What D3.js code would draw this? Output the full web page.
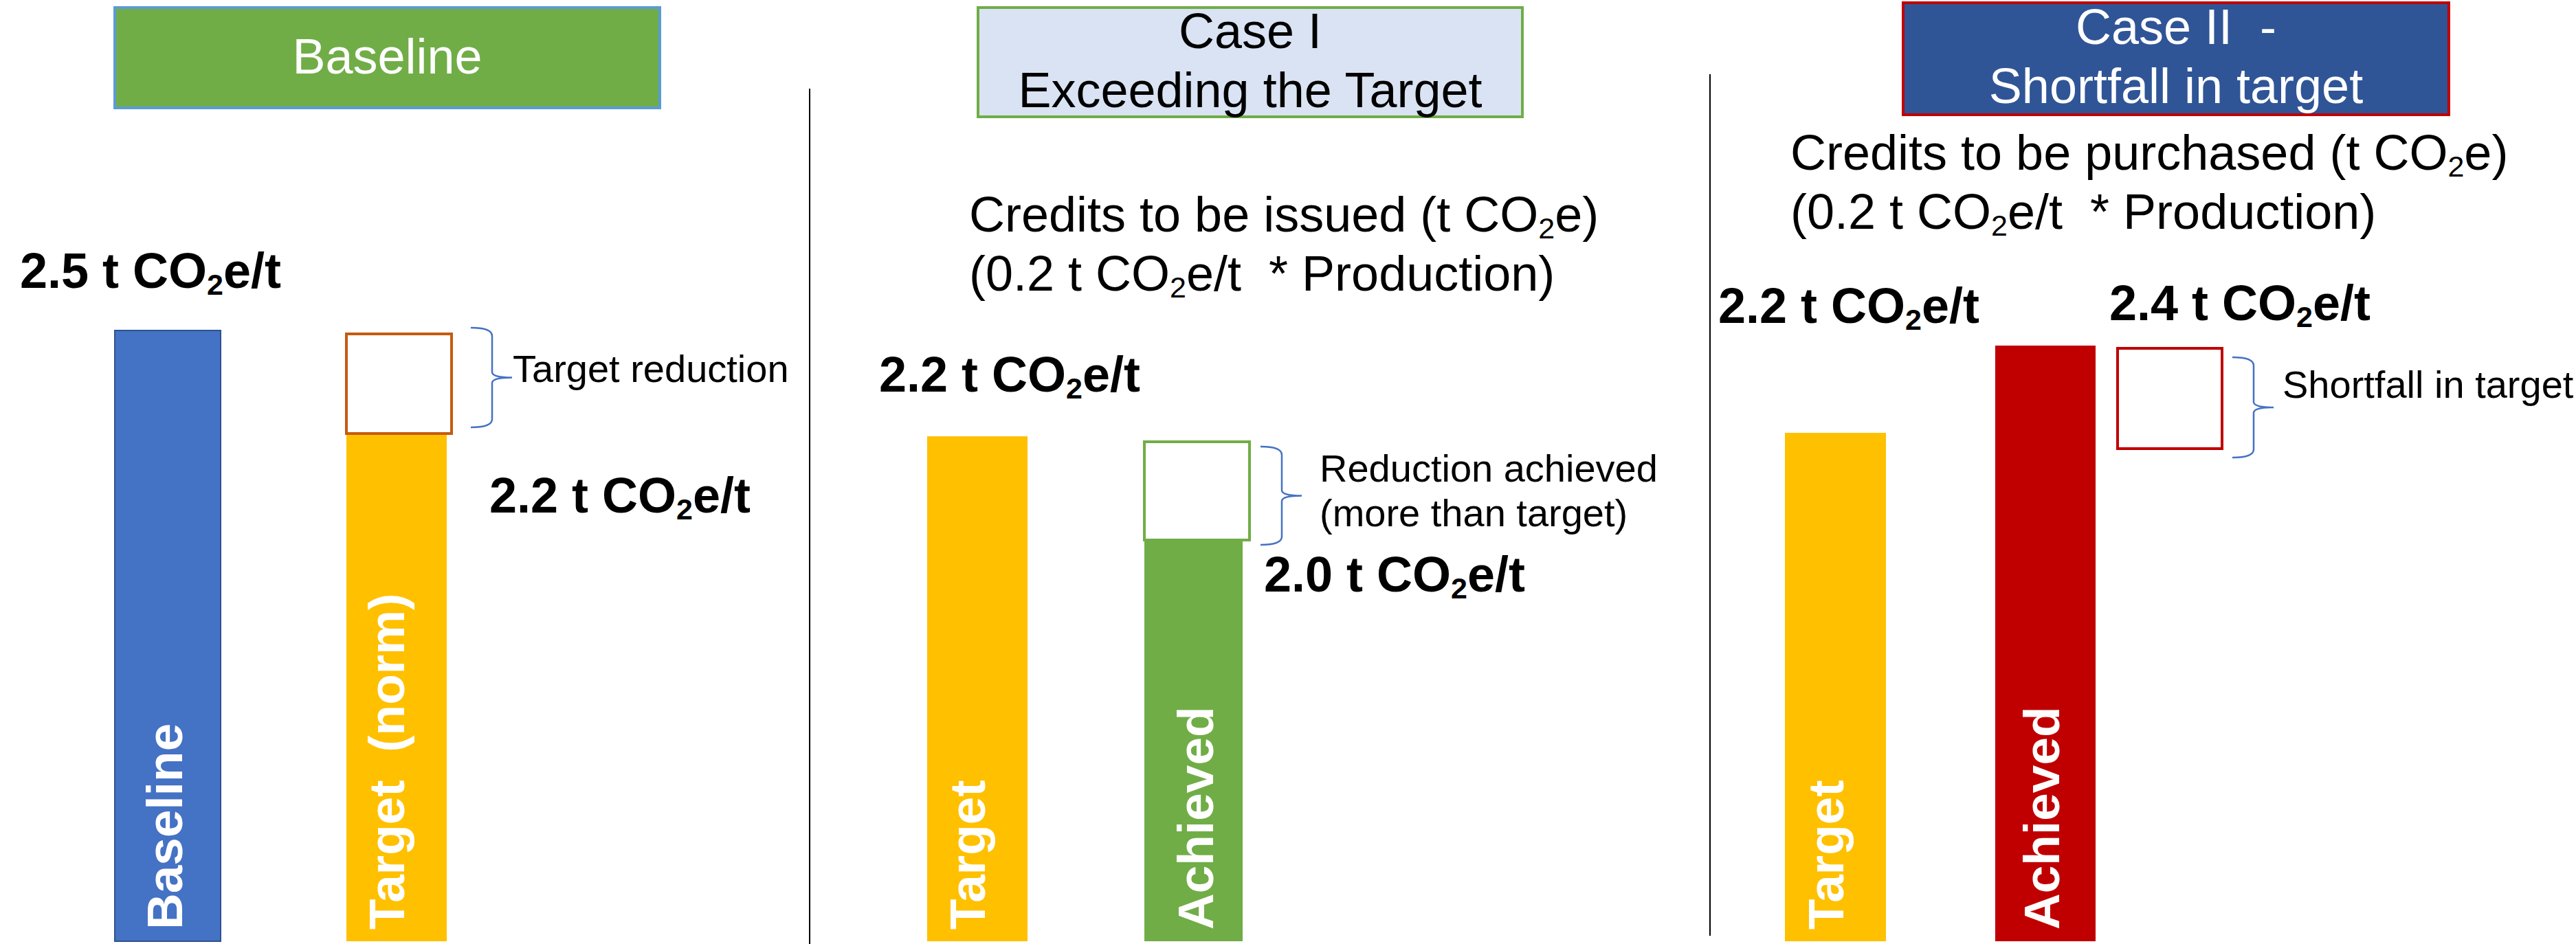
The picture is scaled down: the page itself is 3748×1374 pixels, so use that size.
<!DOCTYPE html>
<html>
<head>
    <title>Baseline vs target credits</title>
    <script src="https://d3js.org/d3.v7.min.js"></script>
    <style>
        body { margin: 0; background: #fff; }
        svg { display: block; font-family: "Liberation Sans", Arial, sans-serif; }
        text { white-space: pre; }
    </style>
</head>
<body>
    <div id="chart"></div>
    <script>
        // ---- data ----
        const panels = ["Baseline", "Case I", "Case II"];
        const titleLines = [["Baseline"], ["Case I", "Exceeding the Target"], ["Case II  -", "Shortfall in target"]];
        const barNames = [["Baseline", "Target  (norm)"], ["Target", "Achieved"], ["Target", "Achieved"]];
        const barValues = [[2.5, 2.2], [2.2, 2.0], [2.2, 2.4]];
        const gapRange = [[2.5, 2.2], [2.2, 2.0], [2.4, 2.2]];   // white box: from hi to lo
        const gapLabels = [["Target reduction"], ["Reduction achieved", "(more than target)"], ["Shortfall in target"]];
        const creditLines = [[], ["Credits to be issued (t CO₂e)", "(0.2 t CO₂e/t  * Production)"],
                                 ["Credits to be purchased (t CO₂e)", "(0.2 t CO₂e/t  * Production)"]];
        const unit = " t CO₂e/t";

        // ---- layout (pixels) ----
        const W = 3748, H = 1374, barBottom = 1370;
        const layout = [
            { yDomain: [2.2, 2.5], yRange: [631, 481], barX: [167, 504], barW: [154, 146],
              colors: ["#4472C4", "#FFC000"], barStroke: ["#2F528F", null],
              box: { bar: 1, dx: 0, w: 153, pad: [5, 0], stroke: "#C55A11" },
              brace: { gap: 28, dy: -9, lab: [1, 6] },
              title: { x: 167, y: 11, w: 793, h: 146, fill: "#70AD47", stroke: "#5B9BD5", color: "#fff", first: 96 },
              credits: null,
              valLab: [[-138, -62], [208, 115]], inLab: [21, 11] },
            { yDomain: [2.0, 2.2], yRange: [786, 635], barX: [1349, 1665], barW: [146, 143],
              colors: ["#FFC000", "#70AD47"], barStroke: [null, null],
              box: { bar: 1, dx: 0, w: 153, pad: [8, 0], stroke: "#70AD47" },
              brace: { gap: 16, dy: 7, lab: [26, -21] },
              title: { x: 1423, y: 11, w: 792, h: 159, fill: "#DAE3F3", stroke: "#70AD47", color: "#000", first: 59 },
              credits: { x: 1410, y: 337 },
              valLab: [[-70, -65], [174, 75]], inLab: [11, 28] },
            { yDomain: [2.2, 2.4], yRange: [630, 503], barX: [2597, 2903], barW: [147, 146],
              colors: ["#FFC000", "#C00000"], barStroke: [null, null],
              box: { bar: 1, dx: 178, w: 152, pad: [4, 23], stroke: "#C00000" },
              brace: { gap: 15, dy: 13, lab: [13, -14] },
              title: { x: 2769, y: 4, w: 794, h: 163, fill: "#2F5597", stroke: "#C00000", color: "#fff", first: 60 },
              credits: { x: 2605, y: 247 },
              valLab: [[-97, -160], [166, -37]], inLab: [11, 20] }
        ];
        const dividers = [{ x: 1178, y1: 129, y2: 1374 }, { x: 2488, y1: 108, y2: 1362 }];

        const svg = d3.select("#chart").append("svg")
            .attr("width", W).attr("height", H);
        svg.append("rect").attr("width", W).attr("height", H).attr("fill", "#fff");

        // text with a subscript 2 wherever "₂" appears
        function richText(sel, str, size) {
            const sub = Math.round(size * 0.6), shift = Math.round(size * 0.14);
            str.split("₂").forEach((p, i) => {
                if (i > 0) {
                    sel.append("tspan").attr("font-size", sub).attr("dy", shift).text("2");
                    sel.append("tspan").attr("dy", -shift).text(p);
                } else {
                    sel.append("tspan").text(p);
                }
            });
        }

        svg.selectAll("line.divider")
            .data(dividers)
            .enter().append("line")
            .attr("class", "divider")
            .attr("x1", d => d.x).attr("x2", d => d.x)
            .attr("y1", d => d.y1).attr("y2", d => d.y2)
            .attr("stroke", "#000").attr("stroke-width", 2);

        panels.forEach((name, p) => {
            const L = layout[p];
            const g = svg.append("g").attr("class", "panel").attr("id", "panel" + p);
            const y = d3.scaleLinear().domain(L.yDomain).range(L.yRange);
            const x = d3.scalePoint().domain(d3.range(barNames[p].length)).range(L.barX);

            // title box
            const t = L.title;
            g.append("rect")
                .attr("x", t.x).attr("y", t.y).attr("width", t.w).attr("height", t.h)
                .attr("fill", t.fill).attr("stroke", t.stroke).attr("stroke-width", 4);
            g.selectAll("text.title")
                .data(titleLines[p])
                .enter().append("text")
                .attr("class", "title")
                .attr("x", t.x + t.w / 2)
                .attr("y", (d, i) => t.y + t.first + i * 86)
                .attr("text-anchor", "middle")
                .attr("font-size", 72)
                .attr("fill", t.color)
                .text(d => d);

            // credits text
            if (L.credits) {
                creditLines[p].forEach((line, i) => {
                    const txt = g.append("text")
                        .attr("x", L.credits.x)
                        .attr("y", L.credits.y + i * 86)
                        .attr("font-size", 72)
                        .attr("fill", "#000");
                    richText(txt, line, 72);
                });
            }

            // bars
            const bars = barValues[p].map((v, i) => ({ i, v, name: barNames[p][i] }));
            g.selectAll("rect.bar")
                .data(bars)
                .enter().append("rect")
                .attr("class", "bar")
                .attr("x", d => x(d.i))
                .attr("y", d => y(d.v))
                .attr("width", d => L.barW[d.i])
                .attr("height", d => barBottom - y(d.v))
                .attr("fill", d => L.colors[d.i])
                .attr("stroke", d => L.barStroke[d.i] || "none")
                .attr("stroke-width", 2);

            // rotated names inside the bars
            g.selectAll("text.inlab")
                .data(bars)
                .enter().append("text")
                .attr("class", "inlab")
                .attr("transform", d => `translate(${x(d.i) + L.barW[d.i] / 2 + L.inLab[d.i]},1353) rotate(-90)`)
                .attr("font-size", 73)
                .attr("font-weight", "bold")
                .attr("fill", "#fff")
                .text(d => d.name);

            // value labels
            bars.forEach(d => {
                const txt = g.append("text")
                    .attr("x", x(d.i) + L.valLab[d.i][0])
                    .attr("y", y(d.v) + L.valLab[d.i][1])
                    .attr("font-size", 72)
                    .attr("font-weight", "bold")
                    .attr("fill", "#000");
                richText(txt, d3.format(".1f")(d.v) + unit, 72);
            });

            // white gap box
            const b = L.box;
            const bx = x(b.bar) + b.dx;
            const by0 = y(gapRange[p][0]) + b.pad[0];
            const by1 = y(gapRange[p][1]) + b.pad[1];
            g.append("rect")
                .attr("x", bx).attr("y", by0)
                .attr("width", b.w).attr("height", by1 - by0)
                .attr("fill", "#fff")
                .attr("stroke", b.stroke).attr("stroke-width", 4);

            // curly brace
            const bx0 = bx + b.w + L.brace.gap, bx1 = bx0 + 31, tip = bx1 + 29;
            const top = by0 + L.brace.dy, bot = by1 + L.brace.dy, mid = (top + bot) / 2;
            const path = d3.path();
            path.moveTo(bx0, top);
            path.quadraticCurveTo(bx1, top, bx1, top + 12);
            path.lineTo(bx1, mid - 8);
            path.quadraticCurveTo(bx1, mid, tip, mid);
            path.quadraticCurveTo(bx1, mid, bx1, mid + 8);
            path.lineTo(bx1, bot - 12);
            path.quadraticCurveTo(bx1, bot, bx0, bot);
            g.append("path")
                .attr("d", path.toString())
                .attr("fill", "none")
                .attr("stroke", "#4472C4")
                .attr("stroke-width", 2.5);

            g.selectAll("text.gaplab")
                .data(gapLabels[p])
                .enter().append("text")
                .attr("class", "gaplab")
                .attr("x", tip + L.brace.lab[0])
                .attr("y", (d, i) => mid + L.brace.lab[1] + i * 65)
                .attr("font-size", 56)
                .attr("fill", "#000")
                .text(d => d);
        });
    </script>
</body>
</html>
